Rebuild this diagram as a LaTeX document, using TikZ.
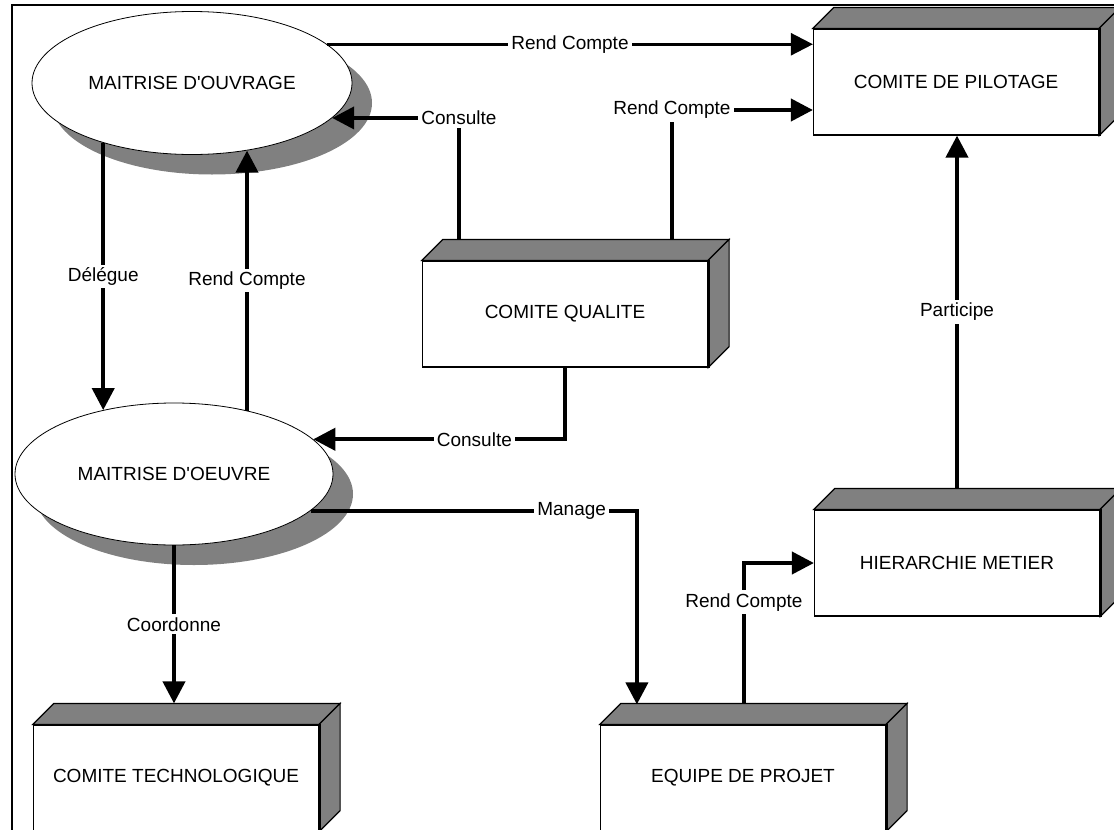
\documentclass[tikz,border=0pt]{standalone}
\usepackage{fontspec}
\setmainfont{Liberation Sans}
\usepackage{tikz}
\usetikzlibrary{arrows,arrows.meta,positioning,calc,shapes.geometric,shadows}
\definecolor{grisfonce}{RGB}{128,128,128}

\newcommand{\relief}[1]{%
\filldraw[flanc] (#1.north west) -- ++(21,-21) -- ($(#1.north east)+(21,-21)$) -- (#1.north east) -- cycle;
\filldraw[flanc] (#1.north east) -- ++(21,-21) -- ($(#1.south east)+(21,-21)$) -- (#1.south east) -- cycle;
\draw[line width=3pt] (#1.north east) -- (#1.south east);}

\begin{document}
\begin{tikzpicture}
[x=1pt,y=-1pt,
every node/.style={font=\fontsize{19}{22}\selectfont},
boite/.style={draw=black,fill=white,line width=1.2pt,minimum width=285pt,minimum height=106pt},
bulle/.style={ellipse,draw=black,fill=white,line width=0.8pt,minimum width=320pt,minimum height=143pt,
drop shadow={shadow xshift=20pt,shadow yshift=-20pt,fill=grisfonce,opacity=1}},
flanc/.style={fill=grisfonce,draw=black,line width=1.2pt},
fleche/.style={line width=4pt,-{Triangle[length=22pt,width=22pt]}},
etiquette/.style={fill=white,inner sep=3pt}]
\clip (0,0) rectangle (1114,830);
\draw[line width=2.5pt] (1114,5) -- (12,5) -- (12,830);

\node[bulle] (ouvrage) at (192,83) {MAITRISE D\textquotesingle OUVRAGE};
\node[bulle,minimum width=318pt,minimum height=142pt] (oeuvre) at (174,474) {MAITRISE D\textquotesingle OEUVRE};
\node[boite] (pilotage) at (956,82) {COMITE DE PILOTAGE};
\node[boite] (qualite) at (565,314) {COMITE QUALITE};
\node[boite] (hierarchie) at (957,563) {HIERARCHIE METIER};
\node[boite] (techno) at (176,778) {COMITE TECHNOLOGIQUE};
\node[boite] (equipe) at (743,778) {EQUIPE DE PROJET};
\relief{pilotage}
\relief{qualite}
\relief{hierarchie}
\relief{techno}
\relief{equipe}

\coordinate (technohaut) at ($(techno.north)+(0,-21)$);
\coordinate (hierhaut) at ($(hierarchie.north)+(0,-21)$);

\draw[fleche,line width=2.5pt] (ouvrage.16) -- node[etiquette]{Rend Compte} (ouvrage.16 -| pilotage.west);
\draw[fleche] ($(qualite.north west)+(37,-21)$) |- node[etiquette]{Consulte} (ouvrage.-14);
\draw[fleche] ($(qualite.north west)+(250,-21)$) |- node[etiquette]{Rend Compte} ($(pilotage.west)+(0,28)$);
\draw[fleche] (ouvrage.-146) -- node[etiquette]{Délégue} (ouvrage.-146 |- oeuvre.138);
\draw[fleche] (oeuvre.41) -- node[etiquette]{Rend Compte} (oeuvre.41 |- ouvrage.-51);
\draw[fleche] (qualite.south) |- node[etiquette,pos=0.68]{Consulte} (oeuvre.14);
\draw[fleche] (oeuvre.-15) -| node[etiquette,pos=0.4]{Manage} ($(equipe.north west)+(37,-20)$);
\draw[fleche] ($(equipe.north west)+(144,-21)$) |- node[etiquette,pos=0.36]{Rend Compte} (hierarchie.west);
\draw[fleche] (oeuvre.south) -- node[etiquette]{Coordonne} (oeuvre.south |- technohaut);
\draw[fleche] (hierhaut) -- node[etiquette]{Participe} (hierhaut |- pilotage.south);
\end{tikzpicture}
\end{document}
